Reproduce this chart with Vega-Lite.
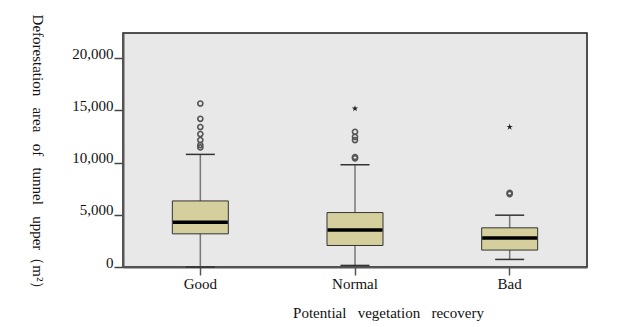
{
  "$schema": "https://vega.github.io/schema/vega-lite/v6.json",
  "width": 464,
  "height": 234,
  "autosize": {"type": "none"},
  "padding": {"left": 123, "top": 33, "right": 45, "bottom": 60},
  "background": "white",
  "config": {
    "font": "Liberation Serif",
    "view": {"fill": "#e8e8e8", "stroke": "#1a1a1a", "strokeWidth": 1.5},
    "axisY": {
      "titleFont": "Liberation Serif",
      "titleFontSize": 15,
      "titleFontWeight": "normal",
      "titleColor": "#111",
      "titleAngle": 90,
      "titleX": -86,
      "titleY": 122,
      "titleAlign": "center",
      "titleBaseline": "middle",
      "labelFontSize": 15,
      "labelColor": "#111",
      "labelPadding": 1,
      "labelBaseline": "alphabetic",
      "tickSize": 9,
      "tickColor": "#444",
      "tickWidth": 1.5,
      "domainColor": "#555",
      "domainWidth": 2,
      "grid": false
    }
  },
  "datasets": {
    "boxes": [
      {"recovery": "Good", "lower": 0, "q1": 3175, "median": 4290, "q3": 6325, "upper": 10780},
      {"recovery": "Normal", "lower": 150, "q1": 2060, "median": 3530, "q3": 5210, "upper": 9790},
      {"recovery": "Bad", "lower": 725, "q1": 1620, "median": 2770, "q3": 3750, "upper": 4960}
    ],
    "outliers": [
      {"recovery": "Good", "value": 15650, "kind": "outlier"},
      {"recovery": "Good", "value": 14180, "kind": "outlier"},
      {"recovery": "Good", "value": 13390, "kind": "outlier"},
      {"recovery": "Good", "value": 12720, "kind": "outlier"},
      {"recovery": "Good", "value": 12150, "kind": "outlier"},
      {"recovery": "Good", "value": 11670, "kind": "outlier"},
      {"recovery": "Good", "value": 11450, "kind": "outlier"},
      {"recovery": "Normal", "value": 15170, "kind": "extreme"},
      {"recovery": "Normal", "value": 12940, "kind": "outlier"},
      {"recovery": "Normal", "value": 12460, "kind": "outlier"},
      {"recovery": "Normal", "value": 12150, "kind": "outlier"},
      {"recovery": "Normal", "value": 10520, "kind": "outlier"},
      {"recovery": "Normal", "value": 10400, "kind": "outlier"},
      {"recovery": "Bad", "value": 13410, "kind": "extreme"},
      {"recovery": "Bad", "value": 7100, "kind": "outlier"},
      {"recovery": "Bad", "value": 6980, "kind": "outlier"}
    ]
  },
  "encoding": {
    "x": {
      "field": "recovery",
      "type": "nominal",
      "sort": ["Good", "Normal", "Bad"],
      "scale": {"type": "band", "domain": ["Good", "Normal", "Bad"], "paddingInner": 0, "paddingOuter": 0},
      "axis": {
        "title": "Potential\u00a0\u00a0\u00a0vegetation\u00a0\u00a0\u00a0recovery",
        "titleFont": "Liberation Serif",
        "titleFontSize": 15,
        "titleFontWeight": "normal",
        "titleColor": "#111",
        "titleX": 265,
        "titleY": 45,
        "titleAlign": "center",
        "titleBaseline": "middle",
        "labelAngle": 0,
        "labelFontSize": 15,
        "labelColor": "#111",
        "labelPadding": 1,
        "tickSize": 8,
        "tickColor": "#555",
        "tickWidth": 1.5,
        "domainColor": "#555",
        "domainWidth": 2,
        "grid": false
      }
    }
  },
  "layer": [
    {
      "data": {"name": "boxes"},
      "mark": {"type": "rule", "color": "#777", "strokeWidth": 1.5},
      "encoding": {
        "y": {
          "field": "lower",
          "type": "quantitative",
          "scale": {"domain": [0, 22400], "nice": false, "zero": false},
          "axis": {"values": [0, 5000, 10000, 15000, 20000], "format": ",d", "title": "Deforestation\u00a0\u00a0\u00a0area\u00a0\u00a0\u00a0of\u00a0\u00a0\u00a0tunnel\u00a0\u00a0\u00a0upper（m²）"}
        },
        "y2": {"field": "upper"}
      }
    },
    {
      "data": {"name": "boxes"},
      "mark": {"type": "bar", "size": 56, "fill": "#d4cf9c", "stroke": "#333", "strokeWidth": 1},
      "encoding": {
        "y": {"field": "q1", "type": "quantitative", "axis": {"values": [0, 5000, 10000, 15000, 20000], "format": ",d", "title": "Deforestation\u00a0\u00a0\u00a0area\u00a0\u00a0\u00a0of\u00a0\u00a0\u00a0tunnel\u00a0\u00a0\u00a0upper（m²）"}},
        "y2": {"field": "q3"}
      }
    },
    {
      "data": {"name": "boxes"},
      "mark": {"type": "tick", "size": 55, "thickness": 3.5, "color": "#000", "opacity": 1},
      "encoding": {
        "y": {"field": "median", "type": "quantitative", "axis": {"values": [0, 5000, 10000, 15000, 20000], "format": ",d", "title": "Deforestation\u00a0\u00a0\u00a0area\u00a0\u00a0\u00a0of\u00a0\u00a0\u00a0tunnel\u00a0\u00a0\u00a0upper（m²）"}}
      }
    },
    {
      "data": {"name": "boxes"},
      "mark": {"type": "tick", "size": 29, "thickness": 1.5, "color": "#333", "opacity": 1},
      "encoding": {
        "y": {"field": "upper", "type": "quantitative", "axis": {"values": [0, 5000, 10000, 15000, 20000], "format": ",d", "title": "Deforestation\u00a0\u00a0\u00a0area\u00a0\u00a0\u00a0of\u00a0\u00a0\u00a0tunnel\u00a0\u00a0\u00a0upper（m²）"}}
      }
    },
    {
      "data": {"name": "boxes"},
      "mark": {"type": "tick", "size": 29, "thickness": 1.5, "color": "#333", "opacity": 1},
      "encoding": {
        "y": {"field": "lower", "type": "quantitative", "axis": {"values": [0, 5000, 10000, 15000, 20000], "format": ",d", "title": "Deforestation\u00a0\u00a0\u00a0area\u00a0\u00a0\u00a0of\u00a0\u00a0\u00a0tunnel\u00a0\u00a0\u00a0upper（m²）"}}
      }
    },
    {
      "data": {"name": "outliers"},
      "transform": [{"filter": "datum.kind === 'outlier'"}],
      "mark": {"type": "point", "shape": "circle", "filled": false, "size": 26, "stroke": "#555", "strokeWidth": 1.6, "opacity": 1},
      "encoding": {
        "y": {"field": "value", "type": "quantitative", "axis": {"values": [0, 5000, 10000, 15000, 20000], "format": ",d", "title": "Deforestation\u00a0\u00a0\u00a0area\u00a0\u00a0\u00a0of\u00a0\u00a0\u00a0tunnel\u00a0\u00a0\u00a0upper（m²）"}}
      }
    },
    {
      "data": {"name": "outliers"},
      "transform": [{"filter": "datum.kind === 'extreme'"}],
      "mark": {"type": "point", "shape": "M0,-1L0.22,-0.3L0.95,-0.3L0.36,0.12L0.59,0.81L0,0.38L-0.59,0.81L-0.36,0.12L-0.95,-0.3L-0.22,-0.3Z", "filled": true, "size": 45, "fill": "#222", "opacity": 1},
      "encoding": {
        "y": {"field": "value", "type": "quantitative", "axis": {"values": [0, 5000, 10000, 15000, 20000], "format": ",d", "title": "Deforestation\u00a0\u00a0\u00a0area\u00a0\u00a0\u00a0of\u00a0\u00a0\u00a0tunnel\u00a0\u00a0\u00a0upper（m²）"}}
      }
    }
  ]
}
